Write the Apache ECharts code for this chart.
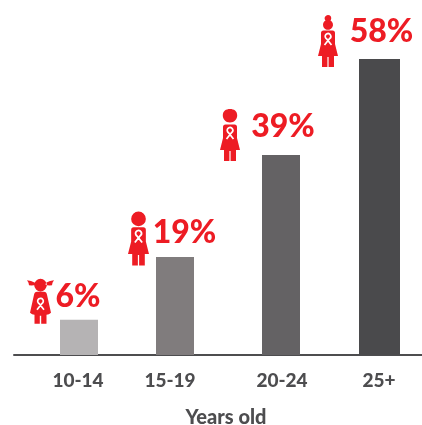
<!DOCTYPE html>
<html><head><meta charset="utf-8">
<style>html,body{margin:0;padding:0;background:#fff}#c{width:422px;height:425px}</style>
<script src="https://cdn.jsdelivr.net/npm/echarts@6/dist/echarts.min.js"></script>
</head><body><div id="c"></div>
<script>
const categories = ['10-14', '15-19', '20-24', '25+'];
const percentLabels = ['6%', '19%', '39%', '58%'];
const barValues = [6.9, 19.2, 39.2, 58];

const barSlots = [0.01, 0.97, 2.03, 3.015];
const labelSlots = [0, 0.92, 2.04, 3.01];
const barWidths = [38, 38, 38, 41];
const barColors = ['#b5b3b4', '#807c7d', '#646264', '#4a4a4c'];
const red = '#ed1c24';
const FONT = 'Lato';

// label centre and icon origin, relative to the bar's top centre (px)
const pctOffsets = [[-1, -23.5], [9.5, -24], [2, -28], [2, -27]];
const iconOffsets = [[-52, -41], [-47, -46], [-61, -46], [-61.5, -44]];
const iconScales = [1, 1.05, 1, 1];

const body = 'M5.5 15.5H14.5Q17 15.5 17 18V29L20 41H16V52H10.6V42H9.4V52H4V41H0L3 29V18Q3 15.5 5.5 15.5Z';
const cape = 'M10 13H17Q19.5 13 20 16L24 34Q22 36 19.5 36V45H14.2V37H12.8V45H7.5V36Q5 36 3 34L7 16Q7.5 13 10 13Z';
const ribbonBody = 'M6.5 30L11.5 23.7A2.8 2.8 0 1 0 8.5 23.7L13.5 30';
const shapes = [
  { path: cape,
    head: 'M13.5 0A6.3 6.3 0 1 0 13.51 0ZM8 4Q4 1.5 0 1.5L1.5 4L2 6.5Q6 7 8.5 6ZM19 4Q23 1.5 27 1.5L25.5 4L25 6.5Q21 7 18.5 6Z',
    ribbon: 'M10 31L15 24.7A2.8 2.8 0 1 0 12 24.7L17 31' },
  { path: body,
    head: 'M10 0.5A7 7 0 1 0 10.01 0.5Z',
    ribbon: ribbonBody },
  { path: body,
    head: 'M10 0C14 0 17.2 2 17.2 6.5C17.2 10 14.5 13.5 10 13.5C5.5 13.5 2.8 10 2.8 6.5C2.8 2 6 0 10 0Z',
    ribbon: ribbonBody },
  { path: body,
    head: 'M10 0A3.4 3.4 0 0 1 12.5 5.5A5 5 0 1 1 7.5 5.5A3.4 3.4 0 0 1 10 0Z',
    ribbon: ribbonBody }
];

const chart = echarts.init(document.getElementById('c'), null, { renderer: 'canvas' });
chart.setOption({
  animation: false,
  backgroundColor: '#fff',
  grid: { left: 14, right: 0, top: 8, bottom: 70, outerBoundsMode: 'none' },
  xAxis: {
    type: 'value', min: -0.64, max: 3.44,
    splitLine: { show: false }, axisTick: { show: false },
    axisLine: { show: true, onZero: false, lineStyle: { color: '#4d4d4f', width: 2 } },
    axisLabel: {
      customValues: labelSlots,
      formatter: v => categories[labelSlots.indexOf(v)],
      color: '#4d4d4f', fontFamily: FONT, fontWeight: 900, fontSize: 19, margin: 16
    },
    name: 'Years old', nameLocation: 'middle', nameGap: 53,
    nameTextStyle: { color: '#4d4d4f', fontFamily: FONT, fontWeight: 900, fontSize: 20, padding: [0, 0, 0, 16] }
  },
  yAxis: { type: 'value', min: 0, max: 68, show: false },
  series: [{
    type: 'custom',
    coordinateSystem: 'cartesian2d',
    clip: false,
    data: barValues.map((v, i) => [barSlots[i], v, i]),
    renderItem(params, api) {
      const i = api.value(2);
      const top = api.coord([api.value(0), api.value(1)]);
      const base = api.coord([api.value(0), 0]);
      const w = barWidths[i];
      const sh = shapes[i];
      return {
        type: 'group',
        children: [
          { type: 'rect', shape: { x: top[0] - w / 2, y: top[1], width: w, height: base[1] - top[1] },
            style: { fill: barColors[i] } },
          { type: 'group', x: top[0] + iconOffsets[i][0], y: top[1] + iconOffsets[i][1],
            scaleX: iconScales[i], scaleY: iconScales[i],
            children: [
              { type: 'path', shape: { pathData: sh.path + sh.head }, style: { fill: red } },
              { type: 'path', shape: { pathData: sh.ribbon }, style: { fill: 'none', stroke: '#fff', lineWidth: 1.7 } }
            ] },
          { type: 'text', x: top[0] + pctOffsets[i][0], y: top[1] + pctOffsets[i][1],
            style: { text: percentLabels[i], fill: red, fontFamily: FONT, fontWeight: 900, fontSize: 32,
                     align: 'center', verticalAlign: 'middle' } }
        ]
      };
    }
  }]
});
</script></body></html>
